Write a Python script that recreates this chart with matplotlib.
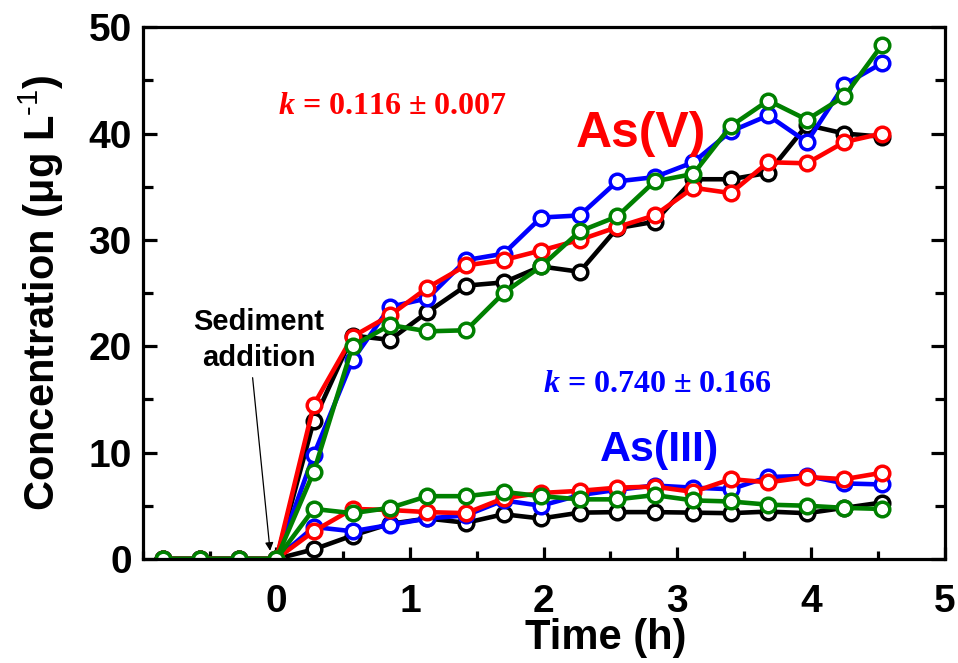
import matplotlib
matplotlib.use("Agg")
import matplotlib.pyplot as plt
from matplotlib.ticker import MultipleLocator

plt.rcParams['font.family'] = ['Liberation Sans', 'DejaVu Sans']
plt.rcParams['mathtext.fontset'] = 'custom'
plt.rcParams['mathtext.rm'] = 'Liberation Sans'
plt.rcParams['mathtext.bf'] = 'Liberation Sans:bold'
plt.rcParams['mathtext.bfit'] = 'Liberation Serif:italic:bold'

time_h = [-0.85, -0.57, -0.28, 0.0, 0.28, 0.57, 0.85, 1.13, 1.42, 1.70,
          1.98, 2.27, 2.55, 2.83, 3.12, 3.40, 3.68, 3.97, 4.25, 4.53]

asv_black = [0, 0, 0, 0, 13.0, 21.0, 20.6, 23.2, 25.7, 26.0, 27.5, 27.0, 31.1, 31.7, 35.7, 35.7, 36.3, 40.8, 40.0, 39.7]
asv_blue = [0, 0, 0, 0, 9.8, 18.7, 23.7, 24.5, 28.1, 28.7, 32.1, 32.3, 35.5, 35.9, 37.3, 40.2, 41.7, 39.2, 44.6, 46.6]
asv_red = [0, 0, 0, 0, 14.5, 20.9, 22.9, 25.5, 27.6, 28.1, 29.0, 30.0, 31.2, 32.3, 34.9, 34.4, 37.3, 37.2, 39.2, 40.0]
asv_green = [0, 0, 0, 0, 8.2, 20.0, 22.0, 21.4, 21.5, 25.0, 27.5, 30.8, 32.2, 35.5, 36.2, 40.7, 43.1, 41.3, 43.5, 48.3]

asiii_black = [0, 0, 0, 0, 0.9, 2.2, 3.3, 3.8, 3.4, 4.2, 3.8, 4.35, 4.4, 4.4, 4.35, 4.3, 4.45, 4.3, 4.8, 5.3]
asiii_blue = [0, 0, 0, 0, 3.0, 2.6, 3.2, 3.8, 4.1, 5.5, 5.0, 6.0, 6.5, 6.9, 6.7, 6.55, 7.7, 7.8, 7.1, 7.0]
asiii_red = [0, 0, 0, 0, 2.6, 4.7, 4.6, 4.4, 4.3, 5.7, 6.2, 6.4, 6.7, 6.8, 6.3, 7.5, 7.2, 7.7, 7.5, 8.1]
asiii_green = [0, 0, 0, 0, 4.7, 4.3, 4.8, 5.9, 5.9, 6.3, 5.9, 5.6, 5.6, 6.0, 5.5, 5.4, 5.1, 5.0, 4.8, 4.7]

x_ticks = [0, 1, 2, 3, 4, 5]
y_ticks = [0, 10, 20, 30, 40, 50]

colors = ['#000000', '#0000FF', '#FF0000', '#008000']

fig = plt.figure(figsize=(9.58, 6.63), dpi=100)
ax = fig.add_axes([0.149, 0.157, 0.837, 0.802])

series = [(asiii_black, asv_black), (asiii_blue, asv_blue),
          (asiii_red, asv_red), (asiii_green, asv_green)]
for (s3, s5), c in zip(series, colors):
    for s in (s3, s5):
        ax.plot(time_h, s, color=c, lw=3.3, marker='o', ms=10.5,
                mfc='white', mec=c, mew=2.5, zorder=2)

ax.set_xlim(-1, 5)
ax.set_ylim(0, 50)
ax.set_xticks(x_ticks)
ax.set_yticks(y_ticks)
ax.xaxis.set_minor_locator(MultipleLocator(0.5))
ax.yaxis.set_minor_locator(MultipleLocator(5))

for sp in ax.spines.values():
    sp.set_linewidth(2.3)

ax.tick_params(axis='both', which='major', direction='in', width=2.3,
               labelsize=28)
ax.tick_params(axis='x', which='major', length=9, pad=18)
ax.tick_params(axis='x', which='minor', direction='in', length=6, width=2.3)
ax.tick_params(axis='y', which='major', length=10, pad=8, right=True)
ax.tick_params(axis='y', which='minor', direction='in', length=7, width=2.3, right=True)
for lab in ax.get_xticklabels() + ax.get_yticklabels():
    lab.set_fontweight('bold')

ax.set_xlabel('Time (h)', fontsize=30, fontweight='bold')
ax.xaxis.set_label_coords(0.577, -0.112)
ax.set_ylabel(r'Concentration (μg L$^{\text{-}1}$)', fontsize=30, fontweight='bold', labelpad=16)

ax.text(0.87, 42.5, r'$\mathbfit{k}$ = 0.116 ± 0.007', color='#FF0000',
        family='Liberation Serif', fontweight='bold', fontsize=23,
        ha='center', va='center')
ax.text(2.73, 40.0, 'As(V)', color='#FF0000', fontweight='bold',
        fontsize=36, ha='center', va='center')
ax.text(2.85, 16.4, r'$\mathbfit{k}$ = 0.740 ± 0.166', color='#0000FF',
        family='Liberation Serif', fontweight='bold', fontsize=23,
        ha='center', va='center')
ax.text(2.87, 10.2, 'As(III)', color='#0000FF', fontweight='bold',
        fontsize=31, ha='center', va='center')
ax.text(-0.13, 20.6, 'Sediment\naddition', color='black', fontweight='bold',
        fontsize=21, ha='center', va='center', linespacing=1.35)
ax.annotate('', xy=(-0.045, 0.5), xytext=(-0.18, 17.3),
            arrowprops=dict(arrowstyle='-|>', color='black', lw=0.9,
                            mutation_scale=12))

fig.savefig('out.png', dpi=100)
